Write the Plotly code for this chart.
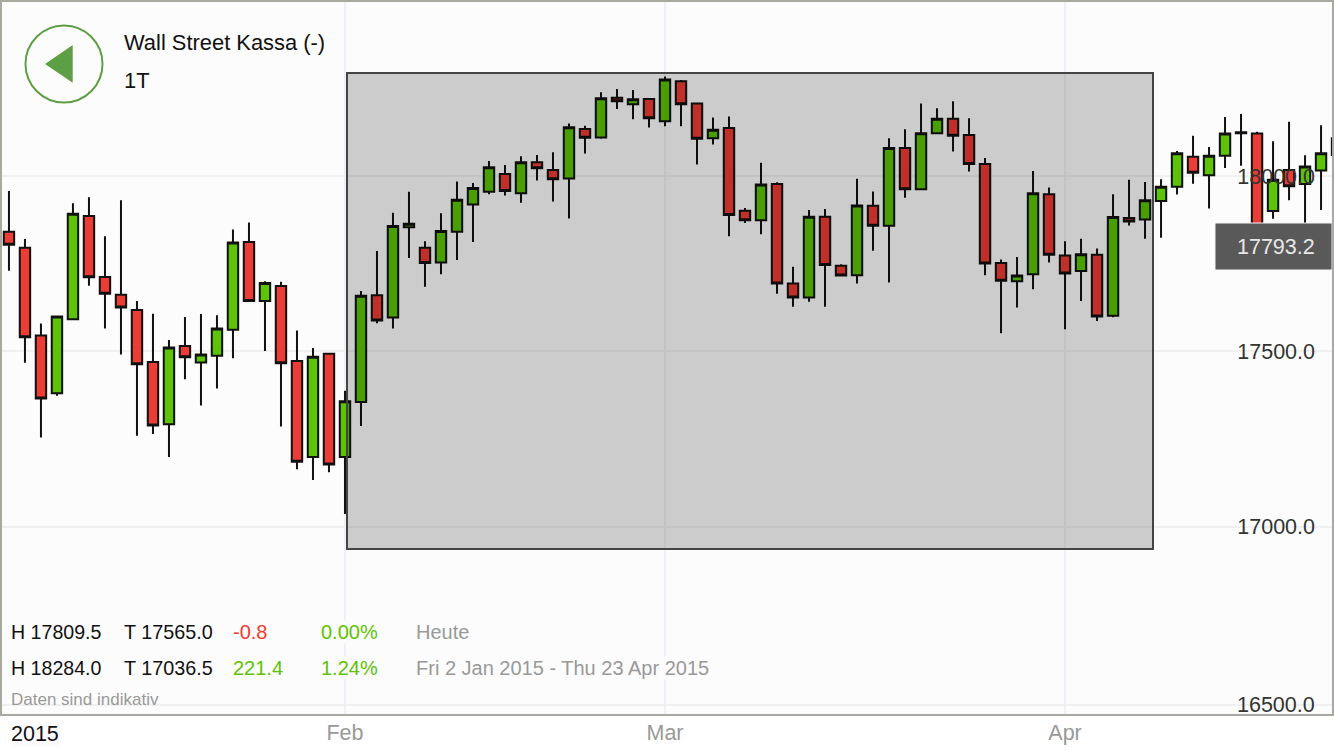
import plotly.graph_objects as go

OPEN = [
    17841, 17795, 17545, 17380, 17591, 17886, 17712, 17661, 17618, 17469,
    17292, 17515, 17468, 17487, 17561, 17812, 17643, 17686, 17472, 17198,
    17493, 17198, 17355, 17660, 17596, 17854, 17795, 17753, 17841, 17919,
    17955, 18006, 17951, 18039, 18017, 17993, 18134, 18110, 18223, 18205,
    18220, 18156, 18270, 18207, 18108, 18137, 17901, 17874, 17977, 17693,
    17653, 17884, 17744, 17717, 17915, 17858, 18080, 17962, 18122, 18163,
    18117, 18034, 17752, 17700, 17720, 17948, 17773, 17729, 17775, 17601,
    17880, 17876, 17929, 17969, 18055, 18002, 18058, 18122, 18121, 17900,
    18017, 17977, 18016, 18060,
]
HIGH = [
    17957, 17820, 17579, 17599, 17922, 17939, 17828, 17931, 17643, 17607,
    17532, 17598, 17606, 17603, 17847, 17867, 17700, 17698, 17559, 17509,
    17496, 17387, 17672, 17786, 17895, 17955, 17814, 17894, 17984, 17980,
    18043, 18031, 18056, 18060, 18068, 18150, 18143, 18239, 18248, 18245,
    18220, 18284, 18274, 18207, 18167, 18170, 17909, 18038, 17982, 17741,
    17903, 17906, 17748, 17992, 17956, 18108, 18133, 18207, 18193, 18213,
    18165, 18051, 17762, 17769, 18014, 17967, 17814, 17821, 17793, 17948,
    17989, 17983, 17991, 18071, 18115, 18083, 18168, 18177, 18126, 18099,
    18155, 18059, 18145, 18120,
]
LOW = [
    17730, 17467, 17254, 17373, 17591, 17687, 17565, 17491, 17259, 17264,
    17198, 17420, 17345, 17394, 17480, 17643, 17501, 17285, 17163, 17133,
    17155, 17036, 17287, 17580, 17565, 17766, 17684, 17720, 17760, 17812,
    17948, 17944, 17924, 17987, 17927, 17879, 18064, 18106, 18191, 18162,
    18138, 18142, 18142, 18033, 18090, 17828, 17866, 17834, 17664, 17627,
    17641, 17627, 17714, 17693, 17787, 17696, 17938, 17962, 18122, 18070,
    18013, 17717, 17551, 17625, 17677, 17753, 17563, 17643, 17586, 17597,
    17859, 17821, 17824, 17947, 17978, 17907, 18023, 18029, 17817, 17878,
    17931, 17863, 17903, 18040,
]
CLOSE = [
    17804, 17540, 17365, 17599, 17892, 17711, 17664, 17625, 17463, 17288,
    17511, 17483, 17491, 17565, 17810, 17643, 17695, 17466, 17185, 17484,
    17177, 17357, 17658, 17588, 17857, 17864, 17752, 17843, 17932, 17966,
    18025, 17957, 18039, 18022, 17991, 18139, 18109, 18222, 18213, 18219,
    18165, 18275, 18205, 18106, 18132, 17889, 17874, 17976, 17693, 17653,
    17884, 17746, 17716, 17916, 17858, 18080, 17962, 18122, 18163, 18115,
    18034, 17750, 17701, 17716, 17951, 17775, 17722, 17777, 17599, 17883,
    17870, 17931, 17969, 18065, 18009, 18058, 18121, 18125, 17840, 17989,
    17971, 18027, 18065, 18108,
]
SESSIONS = list(range(len(OPEN)))

MONTH_TICKS = [21, 41, 66]
MONTH_LABELS = ["Feb", "Mar", "Apr"]
# the lowest gridline sits a little below 16500 in the original,
# its label is an annotation because plotly drops inside labels near the edge
PRICE_TICKS = [16492, 17000, 17500, 18000]
PRICE_LABELS = ["", "17000.0", "17500.0", "18000.0"]

WIDTH, HEIGHT, PLOT_BOTTOM = 1334, 750, 715
FONT = "Liberation Sans"
RED, GREEN, GREY = "#ec3c36", "#5cc400", "#999999"
BG = "#fcfcfc"


def px(x):
    return x / WIDTH


def py(y):
    return 1 - y / PLOT_BOTTOM


def label(x, y, text, color="#111111", size=20, bg=None, anchor="left"):
    return dict(
        x=px(x), y=py(y), xref="paper", yref="paper", text=text, showarrow=False,
        xanchor=anchor, yanchor="middle", bgcolor=bg, borderpad=0,
        font=dict(family=FONT, size=size, color=color),
    )


fig = go.Figure(
    go.Candlestick(
        x=SESSIONS, open=OPEN, high=HIGH, low=LOW, close=CLOSE, whiskerwidth=0,
        increasing=dict(fillcolor=GREEN, line=dict(color="#111111", width=2)),
        decreasing=dict(fillcolor=RED, line=dict(color="#111111", width=2)),
    )
)

annotations = [
    label(123, 42, "Wall Street Kassa (-)", size=21.9),
    label(123, 81, "1T", size=21.9),
    label(10, 632, "H 17809.5", size=19.6, bg=BG),
    label(123, 632, "T 17565.0", size=19.8, bg=BG),
    label(232, 632, "-0.8", RED, bg=BG),
    label(320, 632, "0.00%", GREEN, bg=BG),
    label(415, 632, "Heute", GREY, bg=BG),
    label(10, 668, "H 18284.0", size=19.6, bg=BG),
    label(123, 668, "T 17036.5", size=19.8, bg=BG),
    label(232, 668, "221.4", GREEN, bg=BG),
    label(320, 668, "1.24%", GREEN, bg=BG),
    label(415, 668, "Fri 2 Jan 2015 - Thu 23 Apr 2015", GREY, bg=BG),
    label(10, 699, "Daten sind indikativ", GREY, size=17),
    label(10, 734, "2015", size=21.5, bg=BG),
    label(1276, 246.5, "17793.2", "#e8e8e8", size=21.5, anchor="center"),
    label(1316, 705, "16500.0", "#333333", size=21.5, anchor="right"),
]

shapes = [
    # selection box over the middle of the chart
    dict(
        type="rect", xref="paper", yref="paper", layer="above",
        x0=px(347), x1=px(1153), y0=py(73), y1=py(549),
        fillcolor="rgba(0,0,0,0.19)", line=dict(color="#444444", width=2),
    ),
    # last price box
    dict(
        type="rect", xref="paper", yref="paper", layer="above",
        x0=px(1215), x1=px(1332), y0=py(223), y1=py(270),
        fillcolor="#595959", line=dict(color="#f4f4f4", width=1),
    ),
    # back button
    dict(
        type="circle", xref="paper", yref="paper", layer="above",
        x0=px(25.5), x1=px(102.5), y0=py(25.5), y1=py(102.5),
        line=dict(color="#5e9f45", width=2),
    ),
    dict(
        type="path", xref="paper", yref="paper", layer="above",
        path=f"M {px(45)} {py(64)} L {px(72.7)} {py(45)} L {px(72.7)} {py(82.7)} Z",
        fillcolor="#5e9f45", line=dict(width=0),
    ),
    # frame
    dict(
        type="rect", xref="paper", yref="paper", layer="above",
        x0=px(1), x1=px(1333), y0=py(1), y1=py(PLOT_BOTTOM),
        line=dict(color="#a9a9a1", width=2),
    ),
]

fig.update_layout(
    width=WIDTH,
    height=HEIGHT,
    margin=dict(l=0, r=0, t=0, b=HEIGHT - PLOT_BOTTOM),
    paper_bgcolor="white",
    plot_bgcolor=BG,
    showlegend=False,
    boxgap=0.35,
    boxgroupgap=0,
    annotations=annotations,
    shapes=shapes,
)
fig.update_xaxes(
    range=[-0.56, 82.81],
    rangeslider_visible=False,
    tickvals=MONTH_TICKS,
    ticktext=MONTH_LABELS,
    ticklabelstandoff=2,
    tickfont=dict(family=FONT, size=21.5, color=GREY),
    gridcolor="#eef0f8",
    gridwidth=2,
    zeroline=False,
    showline=False,
)
fig.update_yaxes(
    range=[16462.2, 18502.1],
    side="right",
    ticklabelposition="inside",
    ticklabelstandoff=16,
    tickvals=PRICE_TICKS,
    ticktext=PRICE_LABELS,
    tickfont=dict(family=FONT, size=21.5, color="#333333"),
    gridcolor="#f0f0f0",
    gridwidth=2,
    zeroline=False,
    showline=False,
)

fig.write_html(
    "out.html",
    config={"displayModeBar": False},
    post_script="document.body.style.margin='0';",
)
